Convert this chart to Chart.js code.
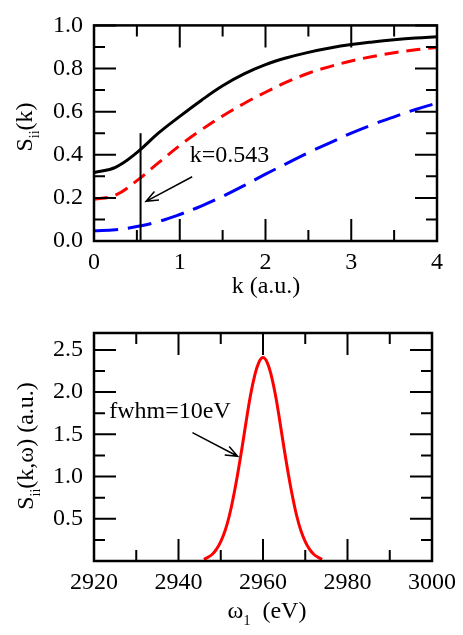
<!DOCTYPE html>
<html>
<head>
<meta charset="utf-8">
<script src="https://cdn.jsdelivr.net/npm/chart.js@4.4.1/dist/chart.umd.min.js"></script>
<style>
  html, body { margin: 0; padding: 0; background: #fff; }
  #wrap { position: relative; width: 463px; height: 635px; }
  canvas { position: absolute; left: 0; }
  #top { top: 0; }
  #bottom { top: 305px; }
</style>
</head>
<body>
<div id="wrap">
  <canvas id="top" width="463" height="305"></canvas>
  <canvas id="bottom" width="463" height="330"></canvas>
</div>
<script>
// --- data ---
const kValues = [0, 0.25, 0.5, 0.75, 1, 1.25, 1.5, 1.75, 2, 2.25, 2.5, 2.75, 3, 3.25, 3.5, 3.75, 4];
const sBlack = [0.318, 0.342, 0.41, 0.50, 0.578, 0.652, 0.72, 0.775, 0.818, 0.85, 0.875, 0.895, 0.911, 0.923, 0.933, 0.941, 0.947];
const sRed   = [0.193, 0.213, 0.28, 0.362, 0.443, 0.515, 0.58, 0.638, 0.69, 0.738, 0.778, 0.809, 0.835, 0.856, 0.873, 0.887, 0.898];
const sBlue  = [0.047, 0.052, 0.067, 0.09, 0.123, 0.162, 0.207, 0.257, 0.31, 0.36, 0.41, 0.455, 0.50, 0.54, 0.576, 0.61, 0.64];

const omega = [2946, 2947, 2948, 2949, 2950, 2951, 2952, 2953, 2954, 2955, 2956, 2957, 2958, 2959, 2960,
               2961, 2962, 2963, 2964, 2965, 2966, 2967, 2968, 2969, 2970, 2971, 2972, 2973, 2974];
const sOmega = [0.02, 0.045, 0.08, 0.14, 0.23, 0.355, 0.53, 0.76, 1.03, 1.33, 1.65, 1.95, 2.19, 2.35, 2.41,
                2.35, 2.19, 1.95, 1.65, 1.33, 1.03, 0.76, 0.53, 0.355, 0.23, 0.14, 0.08, 0.045, 0.02];

// tick labels + minor ticks
const kTicks = [0, 1, 2, 3, 4];
const kMinor = [0.5, 1.5, 2.5, 3.5];
const sTicks = [0, 0.2, 0.4, 0.6, 0.8, 1.0];
const sMinor = [0.1, 0.3, 0.5, 0.7, 0.9];
const wTicks = [2920, 2940, 2960, 2980, 3000];
const wMinor = [2930, 2950, 2970, 2990];
const swTicks = [0.5, 1.0, 1.5, 2.0, 2.5];
const swMinor = [0.25, 0.75, 1.25, 1.75, 2.25];

const SERIF = "'Liberation Serif', 'Times New Roman', serif";
const tickFont = { family: SERIF, size: 24 };

function pts(xs, ys) {
    return xs.map((x, i) => ({ x: x, y: ys[i] }));
}

// text with subscripts: parts = [text, size, dy]
function richText(ctx, parts, x, y, rotate) {
    ctx.save();
    ctx.translate(x, y);
    if (rotate) ctx.rotate(-Math.PI / 2);
    ctx.fillStyle = '#000';
    ctx.textAlign = 'left';
    ctx.textBaseline = 'alphabetic';
    let total = 0;
    parts.forEach(p => { ctx.font = p[1] + 'px ' + SERIF; total += ctx.measureText(p[0]).width; });
    let cx = -total / 2;
    parts.forEach(p => {
        ctx.font = p[1] + 'px ' + SERIF;
        ctx.fillText(p[0], cx, p[2]);
        cx += ctx.measureText(p[0]).width;
    });
    ctx.restore();
}

function arrow(ctx, x1, y1, x2, y2) {
    const ang = Math.atan2(y2 - y1, x2 - x1), h = 13, w = 0.38;
    ctx.beginPath();
    ctx.moveTo(x1, y1);
    ctx.lineTo(x2, y2);
    ctx.moveTo(x2 - h * Math.cos(ang - w), y2 - h * Math.sin(ang - w));
    ctx.lineTo(x2, y2);
    ctx.lineTo(x2 - h * Math.cos(ang + w), y2 - h * Math.sin(ang + w));
    ctx.stroke();
}

// box + inward major/minor ticks on all four sides
function frame(chart, xMaj, xMin, yMaj, yMin) {
    const ctx = chart.ctx, a = chart.chartArea;
    const xs = chart.scales.x, ys = chart.scales.y;
    ctx.save();
    ctx.strokeStyle = '#000';
    ctx.lineWidth = 2;
    ctx.beginPath();
    const vx = (v, len) => {
        const p = xs.getPixelForValue(v);
        ctx.moveTo(p, a.bottom); ctx.lineTo(p, a.bottom - len);
        ctx.moveTo(p, a.top); ctx.lineTo(p, a.top + len);
    };
    const vy = (v, len) => {
        const p = ys.getPixelForValue(v);
        ctx.moveTo(a.left, p); ctx.lineTo(a.left + len, p);
        ctx.moveTo(a.right, p); ctx.lineTo(a.right - len, p);
    };
    xMaj.forEach(v => vx(v, 22));
    xMin.forEach(v => vx(v, 11));
    yMaj.forEach(v => vy(v, 22));
    yMin.forEach(v => vy(v, 11));
    ctx.stroke();
    ctx.lineWidth = 2.5;
    ctx.strokeRect(a.left, a.top, a.right - a.left, a.bottom - a.top);
    ctx.restore();
}

function scalesFor(xmin, xmax, xt, ymin, ymax, yt, xh) {
    return {
        x: {
            type: 'linear', min: xmin, max: xmax,
            afterBuildTicks: s => { s.ticks = xt.map(v => ({ value: v })); },
            afterFit: s => { s.height = xh; },
            ticks: { padding: 7, maxRotation: 0, font: tickFont, color: '#000', callback: v => String(v) },
            grid: { display: false, drawTicks: false },
            border: { display: false }
        },
        y: {
            min: ymin, max: ymax,
            afterBuildTicks: s => { s.ticks = yt.map(v => ({ value: v })); },
            afterFit: s => { s.width = 94; },
            ticks: { padding: 11, font: tickFont, color: '#000', callback: v => v.toFixed(1) },
            grid: { display: false, drawTicks: false },
            border: { display: false }
        }
    };
}

const common = {
    responsive: false,
    animation: false,
    plugins: { legend: { display: false }, tooltip: { enabled: false } },
    elements: { point: { radius: 0 }, line: { borderWidth: 3, tension: 0.4 } }
};

new Chart(document.getElementById('top'), {
    type: 'line',
    data: {
        datasets: [
            { data: pts(kValues, sBlack), borderColor: '#000000' },
            { data: pts(kValues, sRed), borderColor: '#ff0000', borderDash: [14, 8] },
            { data: pts(kValues, sBlue), borderColor: '#0000ff', borderDash: [24, 10] }
        ]
    },
    options: Object.assign({}, common, {
        layout: { padding: { left: 0, right: 26, top: 13, bottom: 0 } },
        scales: scalesFor(0, 4, kTicks, 0, 1, sTicks, 64)
    }),
    plugins: [{
        id: 'topDecor',
        afterDraw(chart) {
            const ctx = chart.ctx, xs = chart.scales.x, ys = chart.scales.y;
            frame(chart, kTicks, kMinor, sTicks, sMinor);
            ctx.save();
            ctx.strokeStyle = '#000';
            ctx.lineWidth = 2;
            ctx.beginPath();
            ctx.moveTo(xs.getPixelForValue(0.543), ys.getPixelForValue(0));
            ctx.lineTo(xs.getPixelForValue(0.543), ys.getPixelForValue(0.5));
            ctx.stroke();
            ctx.lineWidth = 1.5;
            arrow(ctx, xs.getPixelForValue(1.145), ys.getPixelForValue(0.298),
                       xs.getPixelForValue(0.607), ys.getPixelForValue(0.184));
            ctx.fillStyle = '#000';
            ctx.font = '24px ' + SERIF;
            ctx.textAlign = 'left';
            ctx.fillText('k=0.543', xs.getPixelForValue(1.116), ys.getPixelForValue(0.366));
            ctx.restore();
            richText(ctx, [['k (a.u.)', 24, 0]], 266, 293, false);
            richText(ctx, [['S', 24, 0], ['ii', 14, 7], ['(k)', 24, 0]], 32, 127, true);
        }
    }]
});

new Chart(document.getElementById('bottom'), {
    type: 'line',
    data: {
        datasets: [
            { data: pts(omega, sOmega), borderColor: '#ff0000' }
        ]
    },
    options: Object.assign({}, common, {
        layout: { padding: { left: 0, right: 26, top: 28, bottom: 0 } },
        scales: scalesFor(2920, 3000, wTicks, 0, 2.7, swTicks, 74)
    }),
    plugins: [{
        id: 'bottomDecor',
        afterDraw(chart) {
            const ctx = chart.ctx, xs = chart.scales.x, ys = chart.scales.y;
            frame(chart, wTicks, wMinor, swTicks, swMinor);
            ctx.save();
            ctx.strokeStyle = '#000';
            ctx.lineWidth = 1.5;
            arrow(ctx, xs.getPixelForValue(2943.3), ys.getPixelForValue(1.52),
                       xs.getPixelForValue(2954.0), ys.getPixelForValue(1.24));
            ctx.fillStyle = '#000';
            ctx.font = '24px ' + SERIF;
            ctx.textAlign = 'left';
            ctx.fillText('fwhm=10eV', xs.getPixelForValue(2923.6), ys.getPixelForValue(1.69));
            ctx.restore();
            richText(ctx, [['\u03c9', 24, 0], ['1', 14, 7], ['  (eV)', 24, 0]], 267, 313, false);
            richText(ctx, [['S', 24, 0], ['ii', 14, 7], ['(k,\u03c9) (a.u.)', 24, 0]], 33, 141, true);
        }
    }]
});
</script>
</body>
</html>
